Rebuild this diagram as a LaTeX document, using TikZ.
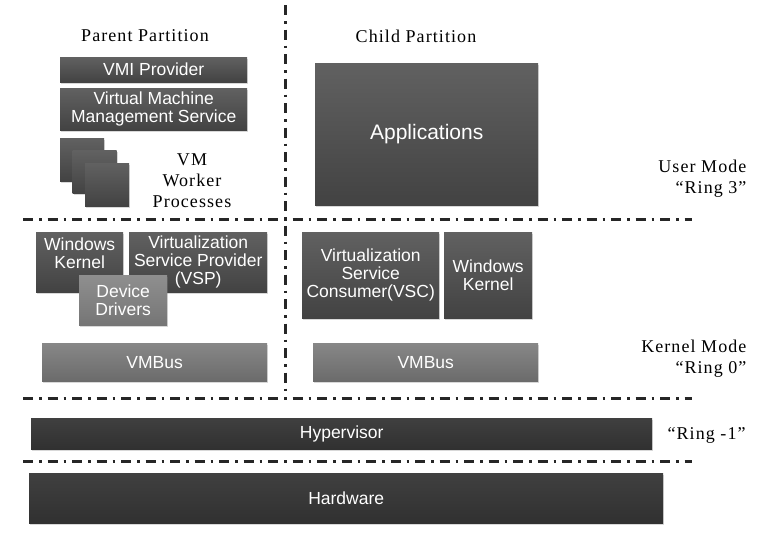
\documentclass[tikz,border=0pt]{standalone}
\usepackage{fontspec}
\setmainfont{Liberation Serif}
\setsansfont{Liberation Sans}
\newfontfamily\capfamily[LetterSpace=6]{Liberation Serif}
\usetikzlibrary{shadows}

\def\boxfont{\sffamily\fontsize{17.5}{18}\selectfont}
\def\capfont{\capfamily\fontsize{18}{21}\selectfont}

\tikzset{
  part/.style={anchor=north west, inner sep=0pt, align=center, text=white!94, font=\boxfont,
    drop shadow={shadow xshift=1pt, shadow yshift=-1.5pt, opacity=.3}},
  darkpart/.style={part, top color=black!62, bottom color=black!74},
  midpart/.style={part, top color=black!47, bottom color=black!58},
  lightpart/.style={part, top color=black!44, bottom color=black!54},
  basepart/.style={part, top color=black!75, bottom color=black!81},
  ring/.style={black!85, line width=3pt, dash pattern=on 10pt off 6pt on 2.5pt off 6pt},
  caption/.style={font=\capfont, align=center}
}

\begin{document}
\begin{tikzpicture}[x=1pt, y=-1pt]
  \useasboundingbox[fill=white] (0,0) rectangle (767,536);

  % mode borders
  \draw[ring] (23,219) -- (692,219);
  \draw[ring] (23,398) -- (692,398);
  \draw[ring] (23,461) -- (692,461);
  \draw[ring] (285,5) -- (285,397);

  % parent partition
  \node[caption] (parent) at (145,36) {Parent Partition};
  \node[darkpart, minimum width=187, minimum height=25] (vmi) at (60,57) {VMI Provider};
  \node[darkpart, minimum width=187, minimum height=42] (vmms) at (60,88) {Virtual Machine\\Management Service};
  \foreach \i in {0,1,2} {
    \node[darkpart, minimum width=44, minimum height=43] (worker\i) at ({60+12.5*\i},{138+12.5*\i}) {};
  }
  \node[caption] (workers) at (192,181) {VM\\Worker\\Processes};
  \node[darkpart, minimum width=87, minimum height=60] (pkernel) at (36,232) {Windows\\Kernel\\~};
  \node[darkpart, minimum width=138, minimum height=60] (vsp) at (129,232) {Virtualization\\Service Provider\\(VSP)};
  \node[lightpart, minimum width=88, minimum height=50] (drivers) at (79,275) {Device\\Drivers};
  \node[midpart, minimum width=225, minimum height=38] (pbus) at (42,343) {VMBus};

  % child partition
  \node[caption] (child) at (416,36) {Child Partition};
  \node[darkpart, font=\sffamily\fontsize{21}{24}\selectfont, minimum width=223, minimum height=142] (apps) at (315,63) {Applications};
  \node[darkpart, minimum width=137, minimum height=86] (vsc) at (302,232) {Virtualization\\Service\\Consumer(VSC)};
  \node[darkpart, minimum width=88, minimum height=86] (ckernel) at (444,232) {Windows\\Kernel};
  \node[midpart, minimum width=225, minimum height=38] (cbus) at (313,343) {VMBus};

  % shared layers
  \node[basepart, minimum width=621, minimum height=31] (hyper) at (31,418) {Hypervisor};
  \node[basepart, minimum width=634, minimum height=50] (hw) at (29,473) {Hardware};

  % rings
  \node[caption, anchor=east, align=right] (user) at (750,179) {User Mode\\“Ring 3”};
  \node[caption, anchor=east, align=right] (kernel) at (750,359) {Kernel Mode\\“Ring 0”};
  \node[caption, anchor=west] (hyperring) at (664,435) {“Ring -1”};
\end{tikzpicture}
\end{document}
